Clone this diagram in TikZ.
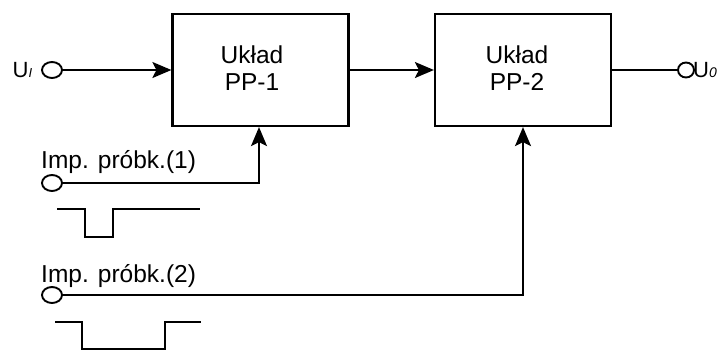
\documentclass[tikz,border=0pt]{standalone}
\usepackage{fontspec}
\setmainfont{Liberation Sans}
\usetikzlibrary{arrows.meta,shapes.geometric}
\begin{document}
\begin{tikzpicture}[x=1pt,y=-1pt,
  block/.style={draw, line width=2.2pt, minimum width=176pt, minimum height=112pt, inner sep=0pt},
  label/.style={inner sep=0pt, font=\fontsize{24.5}{28}\selectfont},
  term/.style={draw, line width=1.9pt, ellipse, minimum width=20pt, minimum height=16pt, inner sep=0pt},
  conn/.style={line width=1.8pt},
  arr/.style={conn, -{Stealth[length=19pt,width=16pt,inset=4pt]}},
  pulse/.style={line width=2.6pt, line join=miter}]
\useasboundingbox (0,0) rectangle (728,354);

% blocks
\node[block] (pp1) at (260.5,70) {};
\node[block] (pp2) at (523,70) {};
\node[label, anchor=base] (pp1a) at (252,63) {Układ};
\node[label, anchor=base] (pp1b) at (252,90) {PP-1};
\node[label, anchor=base] (pp2a) at (517,63) {Układ};
\node[label, anchor=base] (pp2b) at (517,90) {PP-2};

% terminals
\node[term] (ui) at (52,70) {};
\node[term, minimum width=16pt, minimum height=15pt] (uo) at (686,70) {};
\node[term] (imp1) at (52,183) {};
\node[term] (imp2) at (52,295) {};

% terminal labels
\node[inner sep=0pt, anchor=base west, font=\fontsize{22}{24}\selectfont] (uil) at (12.5,77)
  {U{\fontsize{13}{13}\selectfont\itshape I}};
\node[inner sep=0pt, anchor=base west, font=\fontsize{22}{24}\selectfont] (uol) at (693,77)
  {U{\fontsize{14}{14}\selectfont\itshape 0}};
\node[label, anchor=base west] (imp1l) at (41,168) {Imp. próbk.(1)};
\node[label, anchor=base west] (imp2l) at (41,282) {Imp. próbk.(2)};

% signal path
\draw[arr] (ui.east) -- (pp1.west);
\draw[arr] (pp1.east) -- (pp2.west);
\draw[conn] (pp2.east) -- (uo.west);

% sampling pulses
\draw[arr] (imp1.east) -| ([xshift=-1.5pt]pp1.south);
\draw[arr] (imp2.east) -| (pp2.south);

% pulse shapes
\draw[pulse] (57,209) -- (85,209) -- (85,237) -- (113,237) -- (113,209) -- (200,209);
\draw[pulse] (55,322) -- (82,322) -- (82,349) -- (165,349) -- (165,322) -- (201,322);
\end{tikzpicture}
\end{document}
